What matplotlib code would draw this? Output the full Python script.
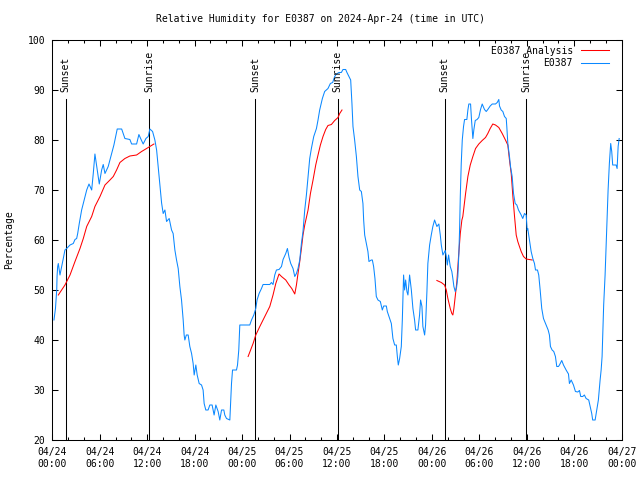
import matplotlib
matplotlib.use('Agg')
import matplotlib.pyplot as plt
import matplotlib.dates as mdates
import pandas as pd

# hours after 2024-04-24 00:00 UTC, relative humidity (%)
obs_hours = [0.21, 0.40, 0.56, 0.60, 0.68, 0.76, 0.97, 1.19, 1.39, 1.60, 1.82, 2.24, 2.65, 2.87,
             3.08, 3.21, 3.41, 3.71, 4.35, 4.64, 4.98, 5.18, 5.39, 5.68, 5.94, 6.24, 6.44, 6.66,
             7.07, 7.50, 7.79, 8.21, 8.77, 9.18, 9.81, 10.03, 10.66, 10.95, 11.17, 11.49, 11.84,
             12.13, 12.34, 12.68, 12.97, 13.19, 13.39, 13.60, 13.82, 14.02, 14.24, 14.45, 14.78,
             15.08, 15.28, 15.50, 15.71, 15.92, 16.13, 16.34, 16.55, 16.67, 16.76, 16.95, 17.18,
             17.39, 17.61, 17.81, 17.94, 18.15, 18.32, 18.57, 18.87, 19.07, 19.20, 19.41, 19.70,
             19.92, 20.21, 20.34, 20.46, 20.68, 20.97, 21.18, 21.40, 21.69, 21.81, 22.03, 22.45,
             22.66, 22.79, 23.29, 23.42, 23.58, 23.71, 24.97, 25.19, 25.48, 25.73, 25.89, 26.15,
             26.45, 26.65, 27.50, 27.71, 27.91, 28.13, 28.34, 28.67, 28.98, 29.18, 29.52, 29.73,
             29.94, 30.15, 30.44, 30.66, 30.87, 31.07, 31.29, 31.50, 31.70, 31.92, 32.13, 32.34,
             32.55, 32.76, 33.06, 33.40, 33.60, 33.81, 34.15, 34.44, 34.86, 35.16, 35.45, 35.71,
             35.92, 36.25, 36.55, 36.76, 37.10, 37.26, 37.51, 37.73, 37.89, 38.02, 38.23, 38.45,
             38.65, 38.87, 39.08, 39.28, 39.37, 39.50, 39.71, 39.91, 40.04, 40.34, 40.47, 40.63,
             40.80, 40.97, 41.18, 41.48, 41.73, 41.90, 42.24, 42.36, 42.57, 42.87, 43.07, 43.29,
             43.50, 43.63, 43.75, 43.92, 44.13, 44.26, 44.42, 44.55, 44.68, 44.84, 44.97, 45.18,
             45.40, 45.60, 45.81, 45.94, 46.23, 46.44, 46.57, 46.74, 46.86, 47.08, 47.20, 47.37,
             47.49, 47.71, 47.92, 48.12, 48.34, 48.63, 48.88, 49.06, 49.19, 49.39, 49.69, 49.82,
             49.95, 50.11, 50.32, 50.52, 50.65, 50.78, 50.95, 51.12, 51.28, 51.41, 51.50, 51.59,
             51.71, 51.84, 52.00, 52.13, 52.42, 52.55, 52.67, 52.89, 53.01, 53.18, 53.30, 53.48,
             53.71, 53.93, 54.15, 54.36, 54.65, 54.87, 55.07, 55.37, 55.63, 56.04, 56.26, 56.46,
             56.55, 56.76, 56.97, 57.18, 57.40, 57.47, 57.60, 57.81, 57.94, 58.15, 58.32, 58.53,
             58.74, 58.95, 59.29, 59.49, 59.71, 59.92, 60.05, 60.12, 60.34, 60.55, 60.76, 60.97,
             61.10, 61.35, 61.51, 61.69, 61.89, 62.11, 62.36, 62.52, 62.70, 62.86, 62.99, 63.20,
             63.41, 63.62, 63.79, 64.00, 64.13, 64.42, 64.64, 64.97, 65.27, 65.39, 65.61, 65.90,
             66.15, 66.44, 66.66, 66.82, 67.07, 67.28, 67.50, 67.83, 68.01, 68.21, 68.33, 68.64,
             68.84, 69.05, 69.27, 69.40, 69.52, 69.60, 69.72, 69.90, 70.03, 70.15, 70.28, 70.44,
             70.61, 70.74, 70.86, 71.29, 71.42, 71.55, 71.68]
obs_rh = [44, 46.3, 50, 52.7, 54.7, 55.3, 53, 54.7, 56.3, 58, 58.3, 59, 59.3, 60.1,
          60.3, 61.3, 63.3, 66, 70, 71.2, 70, 73.3, 77.2, 74, 71.2, 74, 75.1, 73.3,
          74.7, 77.3, 79, 82.2, 82.2, 80.3, 80.1, 79.2, 79.2, 81.1, 80.3, 79.2, 80.3,
          80.7, 82.2, 81.7, 80, 78, 74.7, 71.3, 67.4, 65.3, 66, 63.7, 64.3,
          62, 61.3, 58, 56, 54.3, 50.7, 48, 44, 41, 40, 41, 41,
          38.7, 37.3, 35.3, 33, 35, 33, 31.3, 31, 30, 27.3, 26, 26,
          27, 27, 26, 25, 27, 25.7, 24, 26, 26, 25, 24.3, 24,
          31.3, 34, 34, 35, 38, 43, 43, 44, 45, 46.3, 48, 49.3,
          50.3, 51.1, 51.1, 51.5, 51.1, 53, 54, 54.1, 54.7, 56.1, 57.3, 58.3,
          56.5, 55.3, 54.3, 52.7, 53.3, 54.3, 56, 59.3, 61.7, 66, 69, 72.7,
          76.3, 78.3, 80.7, 82.3, 84, 86, 88.3, 89.7, 90.3, 91.3, 91.5, 92.7,
          93.2, 93.5, 93.5, 94.1, 94.1, 93.5, 92.7, 92, 87.3, 82.7, 80, 76.7,
          72.7, 70, 69.7, 67.3, 64, 61, 59.3, 57.7, 55.7, 56, 56, 54.7,
          52.3, 48.7, 48, 47.7, 46, 46.8, 46.8, 45.7, 44.7, 43.3, 40.3, 39,
          39, 36.7, 35, 36.3, 38.7, 44, 53, 50, 52, 49.7, 49, 53,
          50, 46.3, 44, 42, 42, 45, 48, 46.7, 42.7, 41, 43, 49.7,
          55.3, 59, 61, 62.7, 64, 62.7, 63.2, 61, 59, 57, 57.9, 56.7,
          55, 57, 54.7, 53.7, 52.3, 50.7, 49.7, 50.5, 52.7, 57.3, 62, 68.7,
          75.3, 80, 82.7, 84.1, 84.1, 86, 87.2, 87.2, 84, 80.3, 82, 83.9,
          84.1, 84.5, 86.1, 87.2, 86.1, 85.7, 86.1, 86.8, 87.2, 87.2, 87.5, 88.1,
          86.8, 86, 85.7, 84.7, 84.3, 82.7, 79.3, 76.7, 74.7, 72.7, 69.3, 67.3,
          67, 66, 65, 64.3, 65.3, 65, 62, 62.3, 60, 57.7, 56.3, 55.3,
          54, 54, 53, 50, 46.3, 44.3, 43.3, 42.7, 42, 41, 38.7, 38,
          37.7, 36.7, 34.7, 34.7, 35, 35.9, 35, 34, 33.2, 31.3, 32, 31,
          29.7, 29.6, 29.9, 28.7, 28.7, 29, 28.3, 28, 26.7, 25.3, 24, 24,
          26, 28, 32, 34, 36.7, 41, 47, 53, 59, 64, 70, 75.3,
          79.3, 77.7, 75, 75, 74.3, 78.7, 80.3]

# analysis comes in three separate runs
ana1_hours = [0.76, 1.60, 2.24, 2.87, 3.50, 3.92, 4.35, 4.98, 5.39, 6.03, 6.66, 7.29, 7.71,
              8.13, 8.55, 9.18, 9.81, 10.66, 11.29, 11.92, 12.85]
ana1_rh = [49, 51, 53, 55.7, 58.3, 60.3, 62.7, 64.7, 66.7, 68.7, 71, 72, 72.7,
           74, 75.5, 76.3, 76.8, 77, 77.7, 78.3, 79.2]
ana2_hours = [24.76, 25.39, 25.73, 26.24, 26.87, 27.50, 27.91, 28.26, 28.67, 28.98, 29.52,
              29.94, 30.28, 30.66, 30.87, 31.07, 31.29, 31.50, 31.70, 31.92, 32.13, 32.34,
              32.64, 32.97, 33.31, 33.60, 33.90, 34.23, 34.57, 34.86, 35.29, 35.71, 36.13,
              36.34, 36.63]
ana2_rh = [36.7, 39.3, 41, 42.7, 44.7, 46.7, 49, 51.3, 53.2, 52.7, 52,
           51, 50.3, 49.2, 51, 53.3, 55.7, 58.3, 61, 63, 64.5, 66,
           69.3, 72, 75, 77, 79, 80.7, 82.1, 82.9, 83.1, 83.9, 84.5,
           85.3, 86]
ana3_hours = [48.63, 49.19, 49.60, 49.82, 50.02, 50.32, 50.52, 50.65, 50.78, 50.95, 51.16,
              51.37, 51.59, 51.79, 51.91, 52.26, 52.55, 52.85, 53.18, 53.52, 53.93, 54.36,
              54.78, 55.07, 55.37, 55.70, 56.04, 56.46, 56.89, 57.30, 57.60, 57.81, 58.03,
              58.24, 58.45, 58.66, 58.86, 59.07, 59.29, 59.58, 59.92, 60.68]
ana3_rh = [51.9, 51.5, 51, 50, 48.3, 46.3, 45.3, 45, 46.3, 48.7, 51.7,
           56.7, 61.3, 64, 64.7, 69.3, 72.7, 75, 76.7, 78.3, 79.2, 79.9,
           80.5, 81.3, 82.3, 83.2, 83, 82.5, 81.3, 80, 79, 76, 73.3,
           68.7, 64.7, 61, 59.7, 58.7, 57.7, 56.7, 56.2, 56]

sun_hours = [1.67, 12.25, 25.64, 36.09, 49.64, 59.96]
sun_labels = ['Sunset', 'Sunrise', 'Sunset', 'Sunrise', 'Sunset', 'Sunrise']

start = pd.Timestamp('2024-04-24 00:00')
def to_time(h):
    return start + pd.to_timedelta(h, unit='h')

plt.rcParams['font.family'] = ['DejaVu Sans Mono']
plt.rcParams['font.size'] = 7

fig = plt.figure(figsize=(6.4, 4.8), dpi=100)
ax = fig.add_axes([52.3 / 640, 40 / 480, 569.4 / 640, 400 / 480])

red = '#ff0000'
blue = '#0a88ff'
lw = 0.75

ax.plot(to_time(ana1_hours), ana1_rh, color=red, lw=lw, label='E0387 Analysis')
ax.plot(to_time(ana2_hours), ana2_rh, color=red, lw=lw)
ax.plot(to_time(ana3_hours), ana3_rh, color=red, lw=lw)
ax.plot(to_time(obs_hours), obs_rh, color=blue, lw=lw, label='E0387')

for h, lab in zip(sun_hours, sun_labels):
    t = to_time(h)
    ax.plot([t, t], [20, 88.2], color='black', lw=lw, zorder=1)
    ax.text(t, 89.6, lab, rotation=90, ha='center', va='bottom', fontsize=7)

ax.set_xlim(start, to_time(72))
ax.set_ylim(20, 100)
ax.set_yticks(range(20, 101, 10))
ax.xaxis.set_major_locator(mdates.HourLocator(byhour=range(0, 24, 6)))
ax.xaxis.set_minor_locator(mdates.HourLocator(byhour=range(0, 24, 2)))
ax.xaxis.set_major_formatter(mdates.DateFormatter('%m/%d\n%H:%M'))

ax.tick_params(which='both', direction='in', top=True, right=True, width=0.75, pad=5)
ax.tick_params(which='major', length=4.5)
ax.tick_params(which='minor', length=2.3)
for s in ax.spines.values():
    s.set_linewidth(0.75)

ax.set_ylabel('Percentage', labelpad=10)
fig.text(0.5, 1 - 19 / 480, 'Relative Humidity for E0387 on 2024-Apr-24 (time in UTC)',
         ha='center', va='center', fontsize=7)

ax.legend(loc='upper right', bbox_to_anchor=(1 - 7 / 569.4, 1), frameon=False,
          markerfirst=False, handlelength=2.9, handletextpad=0.8, labelspacing=0.25,
          borderaxespad=0.3, borderpad=0.3)

fig.savefig('out.png', dpi=100)
